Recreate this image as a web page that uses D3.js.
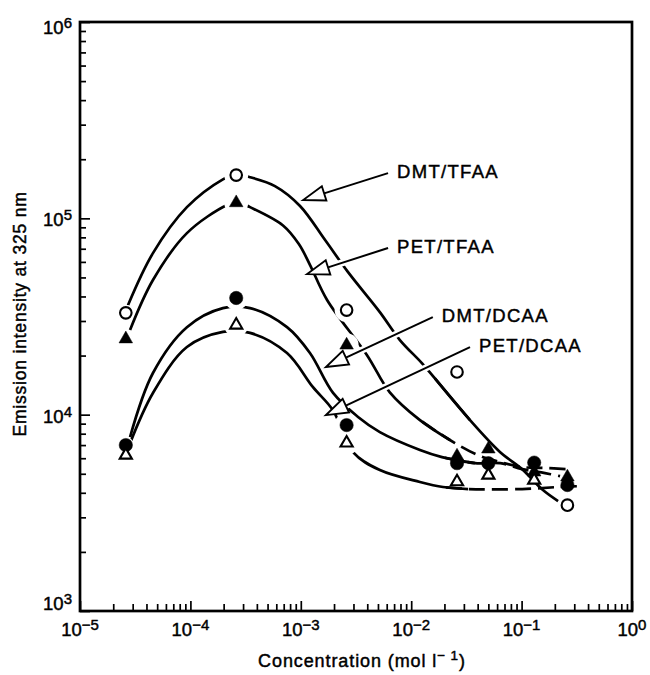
<!DOCTYPE html>
<html>
<head>
<meta charset="utf-8">
<script src="https://cdn.jsdelivr.net/npm/d3@7"></script>
<style>
html, body { margin: 0; padding: 0; background: #fff; overflow: hidden; }
svg { display: block; }
text { font-family: "Liberation Sans", Arial, sans-serif; fill: #000; stroke: #000; stroke-width: 0.45; }
</style>
</head>
<body>
<div id="main"></div>
<script>
// measured points (x = concentration, mol/l)
var concentrations = [2.6e-5, 2.6e-4, 2.6e-3, 2.6e-2, 5e-2, 1.3e-1, 2.6e-1];
var dmtTfaa = [33000, 166000, 34100, 16500, null, null, 3460];
var petTfaa = [24300, 120000, 22600, 6150, 6680, 5100, 4810];
var dmtDcaa = [7000, 39300, 8850, 5660, 5660, 5700, 4380];
var petDcaa = [6220, 28600, 7170, 4550, 4920, 4640, null];

// hand drawn fit curves, knots
var dmtTfaaCurveX = [2.72e-5, 4.58e-5, 9.3e-5, 1.97e-4, 2.59e-4, 3.47e-4, 5.83e-4, 9.84e-4, 1.66e-3, 2.68e-3, 5.2e-3, 7.9e-3, 1.25e-2, 1.64e-2, 3.41e-2, 6.4e-2, 0.101, 0.156, 0.214];
var dmtTfaaCurveY = [36100, 66500, 114000, 158000, 168000, 162000, 146000, 115600, 77500, 53200, 33300, 24000, 18300, 15300, 9380, 6440, 5280, 4130, 3630];
var petTfaaCurveX = [2.84e-5, 4.58e-5, 9.3e-5, 2.15e-4, 2.7e-4, 3.47e-4, 6.9e-4, 9.6e-4, 1.21e-3, 1.73e-3, 3.98e-3, 6.4e-3, 1.2e-2, 2.24e-2, 4.03e-2, 6.4e-2, 0.101, 0.163, 0.258];
var petTfaaCurveY = [27000, 48500, 84100, 117000, 121000, 114000, 92000, 74000, 58000, 38400, 20100, 13000, 9380, 7430, 6220, 5740, 5410, 5350, 5280];
var dmtDcaaCurveX = [2.84e-5, 4.58e-5, 9.3e-5, 1.97e-4, 3.47e-4, 7.5e-4, 1.21e-3, 1.96e-3, 3.3e-3, 5.2e-3, 1.2e-2, 1.9e-2, 3.78e-2, 6.4e-2, 0.101, 0.163, 0.223];
var dmtDcaaCurveY = [7690, 16300, 27900, 34900, 34900, 27900, 20600, 12900, 9730, 8150, 6610, 6080, 5660, 5660, 5280, 5040, 4860];
var petDcaaCurveX = [2.84e-5, 4.58e-5, 9.3e-5, 1.97e-4, 3.47e-4, 7.5e-4, 1.29e-3, 1.96e-3, 2.97e-3, 5.2e-3, 1.2e-2, 1.94e-2, 3.27e-2, 0.101, 0.214, 0.36];
var petDcaaCurveY = [7160, 12900, 22100, 26400, 26100, 20600, 13800, 10500, 6440, 5220, 4540, 4280, 4180, 4180, 4280, 4330];

// labelled arrows
var arrowLabels = ["DMT/TFAA", "PET/TFAA", "DMT/DCAA", "PET/DCAA"];
var arrowTipX = [1.05e-3, 1.14e-3, 1.69e-3, 1.69e-3];
var arrowTipY = [1.24e5, 5.2e4, 1.75e4, 9950];
var arrowEndX = [6.17e-3, 6.17e-3, 1.57e-2, 3.41e-2];
var arrowEndY = [1.70e5, 7.06e4, 3.14e4, 2.21e4];

var xTickExp = [-5, -4, -3, -2, -1, 0];
var yTickExp = [3, 4, 5, 6];

var outerWidth = 650, outerHeight = 675;
var marginLeft = 80, marginTop = 22, marginRight = 18, marginBottom = 64;
var innerWidth = outerWidth - marginLeft - marginRight;
var innerHeight = outerHeight - marginTop - marginBottom;

var xScale = d3.scaleLog().domain([1e-5, 1]).range([0, innerWidth]);
var yScale = d3.scaleLog().domain([1e3, 1e6]).range([innerHeight, 0]);

var svg = d3.select("#main").append("svg")
    .attr("width", outerWidth)
    .attr("height", outerHeight)
    .style("background", "#fff");

var g = svg.append("g")
    .attr("transform", "translate(" + marginLeft + "," + marginTop + ")");

// minor ticks 2..9 in every decade
function minors(exps) {
    var out = [];
    exps.slice(0, -1).forEach(function (e) {
        for (var k = 2; k <= 9; k++) out.push(k * Math.pow(10, e));
    });
    return out;
}
var xMajor = xTickExp.map(function (e) { return Math.pow(10, e); });
var yMajor = yTickExp.map(function (e) { return Math.pow(10, e); });

function styleAxis(sel) {
    sel.select(".domain").remove();
    sel.selectAll("line").attr("stroke", "#000").attr("stroke-width", 1.7);
}

g.append("g").attr("transform", "translate(0," + innerHeight + ")")
    .call(d3.axisBottom(xScale).tickValues(minors(xTickExp)).tickSize(-7).tickFormat(""))
    .call(styleAxis);
g.append("g").attr("transform", "translate(0," + innerHeight + ")")
    .call(d3.axisBottom(xScale).tickValues(xMajor).tickSize(-10).tickFormat(""))
    .call(styleAxis);
g.append("g")
    .call(d3.axisLeft(yScale).tickValues(minors(yTickExp)).tickSize(-6).tickFormat(""))
    .call(styleAxis);
g.append("g")
    .call(d3.axisLeft(yScale).tickValues(yMajor).tickSize(-10).tickFormat(""))
    .call(styleAxis);

g.append("rect")
    .attr("width", innerWidth)
    .attr("height", innerHeight)
    .attr("fill", "none")
    .attr("stroke", "#000")
    .attr("stroke-width", 2.7);

// power-of-ten labels: "10" plus a raised exponent
function powLabel(sel, e) {
    sel.append("tspan").text("10");
    sel.append("tspan")
        .attr("dy", -6)
        .attr("font-size", 15)
        .text(e < 0 ? "\u2212" + (-e) : "" + e);
}

g.selectAll(".xlab").data(xTickExp).enter().append("text")
    .attr("class", "xlab")
    .attr("x", function (e) { return xScale(Math.pow(10, e)); })
    .attr("y", innerHeight + 25)
    .attr("text-anchor", "middle")
    .attr("font-size", 18.5)
    .each(function (e) { powLabel(d3.select(this), e); });

g.selectAll(".ylab").data(yTickExp).enter().append("text")
    .attr("class", "ylab")
    .attr("x", -8)
    .attr("y", function (e) {
        var p = yScale(Math.pow(10, e)) + 8;
        return Math.max(12, Math.min(innerHeight - 1, p));
    })
    .attr("text-anchor", "end")
    .attr("font-size", 18.5)
    .each(function (e) { powLabel(d3.select(this), e); });

// axis titles
var xt = svg.append("text")
    .attr("x", marginLeft + innerWidth / 2 + 6)
    .attr("y", 667)
    .attr("text-anchor", "middle")
    .attr("font-size", 18)
    .attr("letter-spacing", 0.9);
xt.append("tspan").text("Concentration (mol l");
xt.append("tspan").attr("dy", -7).attr("font-size", 13.5).text("\u2212 1");
xt.append("tspan").attr("dy", 7).text(")");

svg.append("text")
    .attr("transform", "translate(26," + (marginTop + 292) + ") rotate(-90)")
    .attr("text-anchor", "middle")
    .attr("font-size", 17.5)
    .attr("letter-spacing", 0.8)
    .text("Emission intensity at 325 nm");

// curves
var curves = [
    [dmtTfaaCurveX, dmtTfaaCurveY],
    [petTfaaCurveX, petTfaaCurveY],
    [dmtDcaaCurveX, dmtDcaaCurveY],
    [petDcaaCurveX, petDcaaCurveY]
];
var line = d3.line()
    .x(function (d) { return xScale(d[0]); })
    .y(function (d) { return yScale(d[1]); })
    .curve(d3.curveCatmullRom.alpha(0.5));

curves.forEach(function (c, ci) {
    var pts = c[0].map(function (x, i) { return [x, c[1][i]]; });
    var split = pts.findIndex(function (p) { return p[0] > 2e-2; });
    var head = pts.slice(0, split + 1);
    var tail = pts.slice(split - 1);
    g.append("path").attr("d", line(head))
        .attr("fill", "none").attr("stroke", "#000").attr("stroke-width", 2.7);
    g.append("path").attr("d", line(tail))
        .attr("fill", "none").attr("stroke", "#000").attr("stroke-width", 2.7)
        .attr("stroke-dasharray", ci === 0 ? null : "16,7")
        .attr("stroke-dashoffset", 20);
});

// markers
var series = [
    { values: dmtTfaa, shape: "circle", filled: false },
    { values: petTfaa, shape: "triangle", filled: true },
    { values: dmtDcaa, shape: "circle", filled: true },
    { values: petDcaa, shape: "triangle", filled: false }
];

var points = [];
series.forEach(function (s) {
    s.values.forEach(function (v, i) {
        if (v != null) points.push({ x: concentrations[i], y: v, i: i, s: s });
    });
});

// white gaps in the curves around markers
g.selectAll(".halo").data(points.filter(function (p) { return p.i < 3; })).enter()
    .append("circle")
    .attr("cx", function (p) { return xScale(p.x); })
    .attr("cy", function (p) { return yScale(p.y); })
    .attr("r", function (p) { return p.i === 0 ? 8 : 12; })
    .attr("fill", "#fff");

g.selectAll(".mk").data(points).enter().append("path")
    .attr("transform", function (p) {
        return "translate(" + xScale(p.x) + "," + yScale(p.y) + ")";
    })
    .attr("d", function (p) {
        if (p.s.shape === "circle") return d3.symbol(d3.symbolCircle, p.s.filled ? 140 : 105)();
        return d3.symbol(d3.symbolTriangle, p.s.filled ? 80 : 64)();
    })
    .attr("fill", function (p) { return p.s.filled ? "#000" : "#fff"; })
    .attr("stroke", "#000")
    .attr("stroke-width", function (p) { return p.s.filled ? 0.5 : 2.1; });

// arrows with labels
arrowLabels.forEach(function (lab, i) {
    var tx = xScale(arrowTipX[i]), ty = yScale(arrowTipY[i]);
    var ex = xScale(arrowEndX[i]), ey = yScale(arrowEndY[i]);
    var dx = ex - tx, dy = ey - ty, len = Math.sqrt(dx * dx + dy * dy);
    var ux = dx / len, uy = dy / len;
    var headLen = 22, headW = 7.5;
    var bx = tx + ux * headLen, by = ty + uy * headLen;
    g.append("line").attr("x1", bx).attr("y1", by).attr("x2", ex).attr("y2", ey)
        .attr("stroke", "#fff").attr("stroke-width", 7);
    g.append("line").attr("x1", bx).attr("y1", by).attr("x2", ex).attr("y2", ey)
        .attr("stroke", "#000").attr("stroke-width", 2);
    var head = [[tx, ty], [bx - uy * headW, by + ux * headW], [bx + uy * headW, by - ux * headW]];
    g.append("path").attr("d", "M" + head.join("L") + "Z")
        .attr("fill", "#fff").attr("stroke", "#000").attr("stroke-width", 1.9);
    g.append("text")
        .attr("x", ex + 9)
        .attr("y", ey + 5)
        .attr("font-size", 18.5)
        .attr("letter-spacing", 1.3)
        .text(lab);
});
</script>
</body>
</html>
